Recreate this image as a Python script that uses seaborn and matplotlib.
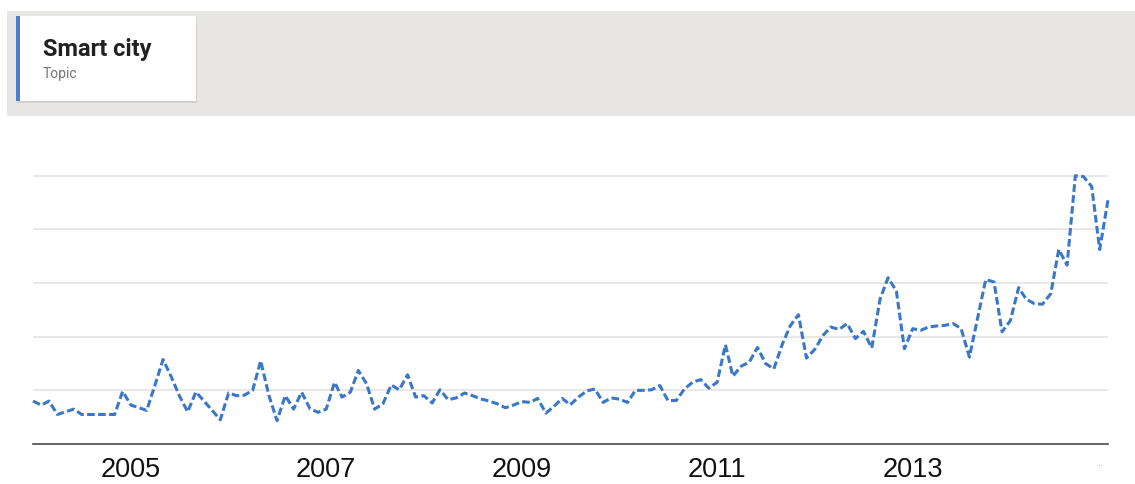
import pandas as pd
import numpy as np
import matplotlib.pyplot as plt
from matplotlib.patches import Rectangle
import seaborn as sns

# Interés de búsqueda mensual (0-100), ene 2004 - ene 2015
months = pd.date_range("2004-01-01", periods=133, freq="MS")
interest = [
    16, 14.5, 16, 11, 12, 13, 11, 11, 11, 11, 11, 19.6,
    14.5, 13.5, 12.5, 22, 31.5, 25, 18, 12, 19.4, 16, 12.5, 9,
    19, 18, 18.2, 20, 31, 18, 8.7, 18, 13, 19.3, 13.2, 11.8,
    13, 23, 17.5, 19.3, 27.4, 22.4, 13, 15, 22, 20.2, 25.8, 17.5,
    18, 15.3, 20.2, 16.5, 17.2, 19, 18, 16.8, 16, 15, 13.5, 14.5,
    15.8, 15.5, 17, 11.5, 14, 17, 14.6, 17.5, 19.8, 20.5, 15.5, 17.2,
    16.7, 15.5, 20, 20, 20.2, 21.8, 16.2, 16.2, 20.5, 23, 24, 20.8,
    23, 37, 25.3, 29, 30.5, 36, 30, 28, 37, 44, 48.2, 32,
    35.3, 40.5, 43.6, 42.7, 44.9, 39.3, 42, 35.8, 54, 62, 57, 35.5,
    43, 42.4, 43.6, 44, 44.2, 44.9, 43, 32.4, 47, 61.3, 60.4, 41.8,
    46, 58.3, 54, 52.3, 52.1, 56, 72.5, 66.7, 100, 99.7, 96, 72.5, 91,
]
tick_years = ["2005", "2007", "2009", "2011", "2013"]
grid_levels = [20, 40, 60, 80, 100]

df = pd.DataFrame({"month": months, "interest": interest})

sns.set_style("white")
plt.rcParams["font.family"] = ["Liberation Sans", "DejaVu Sans"]

W, H = 1135, 485
fig = plt.figure(figsize=(W / 100, H / 100), dpi=100)
fig.patch.set_facecolor("white")

# Cabecera gris con la tarjeta del tema
fig.add_artist(Rectangle((7 / W, 1 - 117 / H), 1 - 7 / W, 105 / H,
                         transform=fig.transFigure, color="#e9e7e5", lw=0))
fig.add_artist(Rectangle((17 / W, 1 - 104 / H), 180 / W, 86 / H,
                         transform=fig.transFigure, color="#d3d1cf", lw=0))
fig.add_artist(Rectangle((16 / W, 1 - 102 / H), 180 / W, 85 / H,
                         transform=fig.transFigure, color="white", lw=0))
fig.add_artist(Rectangle((16 / W, 1 - 102 / H), 4 / W, 85 / H,
                         transform=fig.transFigure, color="#4a7fd0", lw=0))
fig.text(43 / W, 1 - 56 / H, "Smart city", fontsize=17, fontweight="bold",
         family=["Roboto", "DejaVu Sans"], color="#212121", va="baseline")
fig.text(43 / W, 1 - 78 / H, "Topic", fontsize=10,
         family=["Roboto", "DejaVu Sans"], color="#757575", va="baseline")

# Área del gráfico: 0 en y=445 px, 100 en y=176.7 px
ax = fig.add_axes([33 / W, 40 / H, 1075 / W, 279 / H])
sns.lineplot(data=df, x="month", y="interest", ax=ax, color="#3a77c8",
             linewidth=2.2, clip_on=False)
ax.lines[0].set_dashes([2.5, 1.1])

ax.set_xlim(months[0], months[-1])
ax.set_ylim(0, 104)
ax.set_yticks(grid_levels)
ax.set_yticklabels([])
ax.yaxis.grid(True, color="#e4e4e4", linewidth=1.2)
ax.xaxis.grid(False)
ax.set_xticks(pd.to_datetime([y + "-01-01" for y in tick_years]))
ax.set_xticklabels(tick_years, fontsize=19.5, color="#111111")
ax.tick_params(axis="both", length=0)
ax.tick_params(axis="x", pad=9)
ax.set_xlabel("")
ax.set_ylabel("")
for side in ["top", "right", "left"]:
    ax.spines[side].set_visible(False)
ax.spines["bottom"].set_color("#4a4a4a")
ax.spines["bottom"].set_linewidth(1.2)

fig.text(1101 / W, 1 - 466 / H, "··", fontsize=7, color="#9a9a9a",
         ha="center", va="center")

plt.savefig("out.png", dpi=100)
